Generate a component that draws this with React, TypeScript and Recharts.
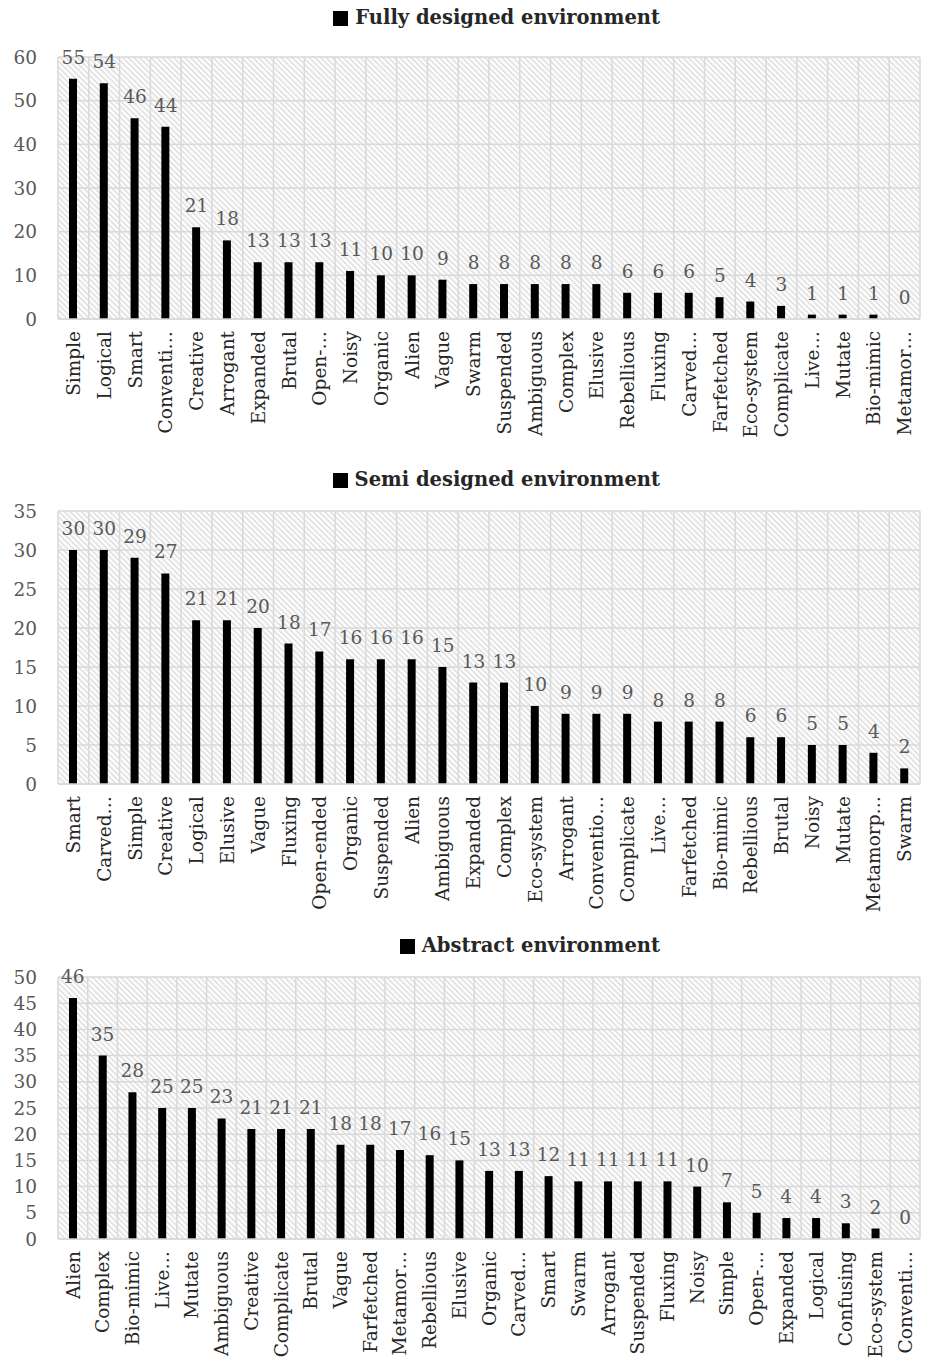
import React from 'react';
import { ComposedChart, Bar, Line, XAxis, YAxis, CartesianGrid, LabelList } from 'recharts';

const fullyCategories = ['Simple', 'Logical', 'Smart', 'Conventi…', 'Creative', 'Arrogant', 'Expanded', 'Brutal', 'Open-…', 'Noisy', 'Organic', 'Alien', 'Vague', 'Swarm', 'Suspended', 'Ambiguous', 'Complex', 'Elusive', 'Rebellious', 'Fluxing', 'Carved…', 'Farfetched', 'Eco-system', 'Complicate', 'Live…', 'Mutate', 'Bio-mimic', 'Metamor…'];
const fullyValues = [55, 54, 46, 44, 21, 18, 13, 13, 13, 11, 10, 10, 9, 8, 8, 8, 8, 8, 6, 6, 6, 5, 4, 3, 1, 1, 1, 0];
const fullyTicks = [0, 10, 20, 30, 40, 50, 60];

const semiCategories = ['Smart', 'Carved…', 'Simple', 'Creative', 'Logical', 'Elusive', 'Vague', 'Fluxing', 'Open-ended', 'Organic', 'Suspended', 'Alien', 'Ambiguous', 'Expanded', 'Complex', 'Eco-system', 'Arrogant', 'Conventio…', 'Complicate', 'Live…', 'Farfetched', 'Bio-mimic', 'Rebellious', 'Brutal', 'Noisy', 'Mutate', 'Metamorp…', 'Swarm'];
const semiValues = [30, 30, 29, 27, 21, 21, 20, 18, 17, 16, 16, 16, 15, 13, 13, 10, 9, 9, 9, 8, 8, 8, 6, 6, 5, 5, 4, 2];
const semiTicks = [0, 5, 10, 15, 20, 25, 30, 35];

const abstractCategories = ['Alien', 'Complex', 'Bio-mimic', 'Live…', 'Mutate', 'Ambiguous', 'Creative', 'Complicate', 'Brutal', 'Vague', 'Farfetched', 'Metamor…', 'Rebellious', 'Elusive', 'Organic', 'Carved…', 'Smart', 'Swarm', 'Arrogant', 'Suspended', 'Fluxing', 'Noisy', 'Simple', 'Open-…', 'Expanded', 'Logical', 'Confusing', 'Eco-system', 'Conventi…'];
const abstractValues = [46, 35, 28, 25, 25, 23, 21, 21, 21, 18, 18, 17, 16, 15, 13, 13, 12, 11, 11, 11, 11, 10, 7, 5, 4, 4, 3, 2, 0];
const abstractTicks = [0, 5, 10, 15, 20, 25, 30, 35, 40, 45, 50];

const FONT = '"DejaVu Serif", serif';

function CategoryTick(props: any) {
  const { x, y, payload } = props;
  return (
    <text
      x={0}
      y={0}
      transform={`translate(${x},${y}) rotate(-90)`}
      textAnchor="end"
      dy="0.36em"
      fill="#262626"
      fontFamily={FONT}
      fontSize={18.5}
    >
      {payload.value}
    </text>
  );
}

type PanelProps = {
  id: string;
  title: string;
  categories: string[];
  values: number[];
  ticks: number[];
  height: number;
  top: number;
  xAxisHeight: number;
  titleTop: number;
};

function Panel({ id, title, categories, values, ticks, height, top, xAxisHeight, titleTop }: PanelProps) {
  const data = categories.map((c, i) => ({ name: c, value: values[i] }));
  const n = categories.length;
  const max = ticks[ticks.length - 1];
  return (
    <div style={{ position: 'relative', width: 935, height }}>
      <ComposedChart width={935} height={height} data={data} margin={{ top, right: 15, left: 0, bottom: 0 }}>
        <defs>
          <pattern id={id} width={4} height={4} patternUnits="userSpaceOnUse" patternTransform="rotate(-45)">
            <rect x={0} y={0} width={4} height={4} fill="#ffffff" />
            <line x1={2} y1={0} x2={2} y2={4} stroke="#cfcfcf" strokeWidth={1.1} />
          </pattern>
        </defs>
        <CartesianGrid
          fill={`url(#${id})`}
          stroke="#d9d9d9"
          strokeWidth={1.5}
          verticalCoordinatesGenerator={({ offset }: any) =>
            Array.from({ length: n + 1 }, (_, i) => offset.left + (i * offset.width) / n)
          }
        />
        <XAxis
          dataKey="name"
          interval={0}
          height={xAxisHeight}
          tick={<CategoryTick />}
          tickLine={false}
          tickSize={0}
          tickMargin={12}
          axisLine={{ stroke: '#d9d9d9', strokeWidth: 1.5 }}
        />
        <YAxis
          width={58}
          domain={[0, max]}
          ticks={ticks}
          interval={0}
          axisLine={false}
          tickLine={false}
          tickSize={0}
          tickMargin={21}
          tick={{ fill: '#595959', fontFamily: FONT, fontSize: 18.5 }}
        />
        <Bar dataKey="value" fill="#000000" barSize={8} isAnimationActive={false} />
        <Line
          dataKey="value"
          stroke="none"
          dot={false}
          activeDot={false}
          legendType="none"
          isAnimationActive={false}
        >
          <LabelList dataKey="value" position="top" offset={15} fill="#595959" fontFamily={FONT} fontSize={18.5} />
        </Line>
      </ComposedChart>
      <div
        style={{
          position: 'absolute',
          top: titleTop,
          left: 0,
          width: 660,
          display: 'flex',
          justifyContent: 'flex-end',
          alignItems: 'center',
          fontFamily: FONT,
          fontWeight: 'bold',
          fontSize: 19.5,
          lineHeight: '24px',
          color: '#262626',
          whiteSpace: 'nowrap',
        }}
      >
        <span style={{ display: 'inline-block', width: 15, height: 15, background: '#000', marginRight: 7 }} />
        <span>{title}</span>
      </div>
    </div>
  );
}

export default function App() {
  return (
    <div style={{ position: 'absolute', left: 0, top: 0, width: 935, height: 1357, background: '#fff' }}>
      <Panel
        id="hatch1"
        title="Fully designed environment"
        categories={fullyCategories}
        values={fullyValues}
        ticks={fullyTicks}
        height={450}
        top={57}
        xAxisHeight={131}
        titleTop={6}
      />
      <Panel
        id="hatch2"
        title="Semi designed environment"
        categories={semiCategories}
        values={semiValues}
        ticks={semiTicks}
        height={466}
        top={61}
        xAxisHeight={132}
        titleTop={18}
      />
      <Panel
        id="hatch3"
        title="Abstract environment"
        categories={abstractCategories}
        values={abstractValues}
        ticks={abstractTicks}
        height={441}
        top={61}
        xAxisHeight={118}
        titleTop={18}
      />
    </div>
  );
}
